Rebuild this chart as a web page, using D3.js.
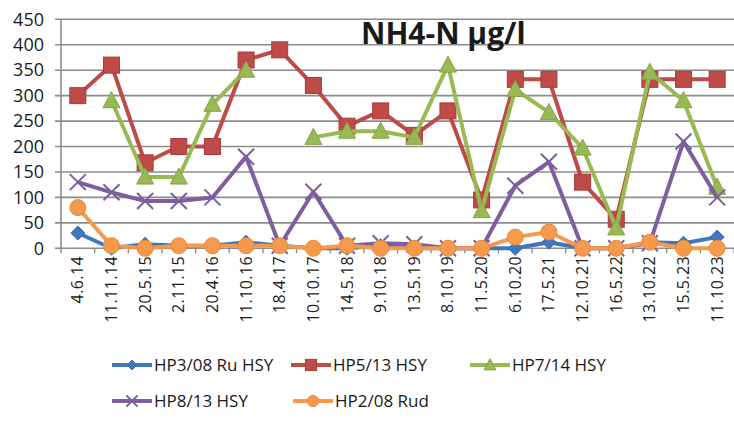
<!DOCTYPE html>
<html>
<head>
<meta charset="utf-8">
<script src="https://cdn.jsdelivr.net/npm/d3@7"></script>
<style>
  body { margin: 0; background: #fff; }
  svg text { font-family: "Open Sans", sans-serif; fill: #1a1a1a; }
</style>
</head>
<body>
<div id="chart"></div>
<script>
// Sampling dates (category axis)
const dates = ['4.6.14', '11.11.14', '20.5.15', '2.11.15', '20.4.16', '11.10.16', '18.4.17',
  '10.10.17', '14.5.18', '9.10.18', '13.5.19', '8.10.19', '11.5.20', '6.10.20', '17.5.21',
  '12.10.21', '16.5.22', '13.10.22', '15.5.23', '11.10.23'];

const yTicks = [0, 50, 100, 150, 200, 250, 300, 350, 400, 450];

// NH4-N values per well, µg/l (null = no sample)
const hp3 = [30, 0, 8, 5, 5, 12, 5, 0, 0, 5, 0, 0, 0, 0, 12, 0, 0, 12, 10, 22];
const hp5 = [300, 360, 168, 200, 200, 370, 390, 320, 240, 270, 222, 270, 95, 332, 332, 130, 57, 332, 332, 332];
const hp7 = [null, 290, 140, 140, 283, 350, null, 218, 230, 230, 218, 360, 74, 312, 267, 197, 40, 346, 290, 120];
const hp8 = [130, 110, 93, 93, 100, 180, 5, 111, 5, 10, 8, 0, 0, 123, 170, 0, 0, 10, 210, 100];
const hp2 = [80, 5, 0, 5, 5, 5, 5, 0, 5, 0, 0, 0, 0, 22, 32, 0, 0, 12, 0, 0];

const series = [
  { name: 'HP3/08 Ru HSY', values: hp3, color: '#3f78bd', marker: 'diamond' },
  { name: 'HP5/13 HSY', values: hp5, color: '#be4b48', marker: 'square' },
  { name: 'HP7/14 HSY', values: hp7, color: '#98b954', marker: 'triangle' },
  { name: 'HP8/13 HSY', values: hp8, color: '#7d5fa0', marker: 'cross' },
  { name: 'HP2/08 Rud', values: hp2, color: '#f59a4c', marker: 'circle' }
];

const width = 734;
const height = 421;
const plot = { left: 61, right: 734, top: 19.3, bottom: 248.3 };

const svg = d3.select('#chart').append('svg')
  .attr('width', width)
  .attr('height', height);

const x = d3.scaleBand().domain(dates).range([plot.left, plot.right]);
const y = d3.scaleLinear().domain([0, 450]).range([plot.bottom, plot.top]);
const cx = d => x(d) + x.bandwidth() / 2;

// Gridlines
svg.append('g')
  .selectAll('line')
  .data(yTicks)
  .join('line')
  .attr('x1', plot.left - 6)
  .attr('x2', plot.right)
  .attr('y1', d => y(d))
  .attr('y2', d => y(d))
  .attr('stroke', '#8c8c8c')
  .attr('stroke-width', 1.6);

// Y axis line
svg.append('line')
  .attr('x1', plot.left).attr('x2', plot.left)
  .attr('y1', plot.top).attr('y2', plot.bottom)
  .attr('stroke', '#8c8c8c').attr('stroke-width', 1.6);

// Y tick labels
svg.append('g')
  .selectAll('text')
  .data(yTicks)
  .join('text')
  .attr('x', 44)
  .attr('y', d => y(d))
  .attr('dy', '0.35em')
  .attr('text-anchor', 'end')
  .attr('font-size', 18)
  .text(d => d);

// X tick marks between categories
const tickPos = d3.range(dates.length + 1).map(i => plot.left + i * x.bandwidth());
svg.append('g')
  .selectAll('line')
  .data(tickPos)
  .join('line')
  .attr('x1', d => d).attr('x2', d => d)
  .attr('y1', plot.bottom).attr('y2', plot.bottom + 5)
  .attr('stroke', '#8c8c8c').attr('stroke-width', 1.4);

// X tick labels, rotated
svg.append('g')
  .selectAll('text')
  .data(dates)
  .join('text')
  .attr('transform', d => `translate(${cx(d) + 5.5},256) rotate(-90)`)
  .attr('text-anchor', 'end')
  .attr('font-size', 16)
  .attr('letter-spacing', 0.4)
  .text(d => d);

// Title
svg.append('text')
  .attr('x', 361)
  .attr('y', 44)
  .attr('font-size', 30)
  .attr('font-weight', 'bold')
  .attr('fill', '#111')
  .text('NH4-N µg/l');

// Marker drawing, k scales the size
function drawMarker(g, type, color, px, py, k = 1) {
  if (type === 'square') {
    const h = 8 * k;
    g.append('rect')
      .attr('x', px - h).attr('y', py - h)
      .attr('width', 2 * h).attr('height', 2 * h)
      .attr('fill', color).attr('stroke', '#a53c39').attr('stroke-width', 1);
  } else if (type === 'diamond') {
    const h = 7 * k;
    g.append('path')
      .attr('d', `M${px},${py - h}L${px + h},${py}L${px},${py + h}L${px - h},${py}Z`)
      .attr('fill', color).attr('stroke', '#356aa8').attr('stroke-width', 1);
  } else if (type === 'triangle') {
    g.append('path')
      .attr('d', `M${px},${py - 9 * k}L${px + 8.5 * k},${py + 7 * k}L${px - 8.5 * k},${py + 7 * k}Z`)
      .attr('fill', color).attr('stroke', '#86a548').attr('stroke-width', 1);
  } else if (type === 'circle') {
    g.append('circle')
      .attr('cx', px).attr('cy', py).attr('r', 8 * k)
      .attr('fill', color).attr('stroke', '#e8883a').attr('stroke-width', 1);
  } else if (type === 'cross') {
    const h = 8 * k;
    g.append('path')
      .attr('d', `M${px - h},${py - h}L${px + h},${py + h}M${px - h},${py + h}L${px + h},${py - h}`)
      .attr('stroke', color).attr('stroke-width', 2);
  }
}

const line = d3.line()
  .defined(v => v !== null)
  .x((v, i) => cx(dates[i]))
  .y(v => y(v));

series.forEach(s => {
  const g = svg.append('g');
  g.append('path')
    .attr('d', line(s.values))
    .attr('fill', 'none')
    .attr('stroke', s.color)
    .attr('stroke-width', 4)
    .attr('stroke-linejoin', 'round');
  s.values.forEach((v, i) => {
    if (v === null) return;
    drawMarker(g, s.marker, s.color, cx(dates[i]), y(v));
  });
});

// Legend
const legendPos = [
  { x: 112, y: 365 }, { x: 291, y: 365 }, { x: 470, y: 365 },
  { x: 112, y: 401 }, { x: 293, y: 401 }
];
series.forEach((s, i) => {
  const p = legendPos[i];
  const g = svg.append('g');
  g.append('line')
    .attr('x1', p.x).attr('x2', p.x + 40)
    .attr('y1', p.y).attr('y2', p.y)
    .attr('stroke', s.color).attr('stroke-width', 4);
  drawMarker(g, s.marker, s.color, p.x + 20, p.y, 0.7);
  g.append('text')
    .attr('x', p.x + 42)
    .attr('y', p.y)
    .attr('dy', '0.35em')
    .attr('font-size', 17)
    .text(s.name);
});
</script>
</body>
</html>
